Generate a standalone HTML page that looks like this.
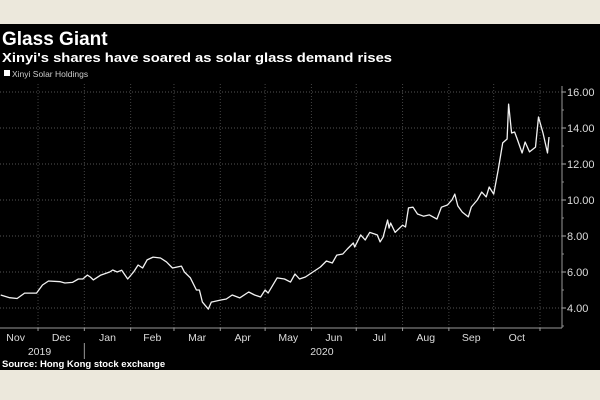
<!DOCTYPE html>
<html><head><meta charset="utf-8"><style>
html,body{margin:0;padding:0;background:#ece8dc;}
svg{display:block;font-family:"Liberation Sans",sans-serif;}
</style></head><body>
<svg id="chart" width="600" height="400" viewBox="0 0 600 400">
<rect x="0" y="0" width="600" height="24" fill="#ece8dc"/>
<rect x="0" y="24" width="600" height="346" fill="#000"/>
<rect x="0" y="370" width="600" height="30" fill="#ece8dc"/>
<text x="2" y="45" fill="#fff" font-size="19" font-weight="bold">Glass Giant</text>
<text x="2" y="62" fill="#fff" font-size="13" font-weight="bold" textLength="390" lengthAdjust="spacingAndGlyphs">Xinyi's shares have soared as solar glass demand rises</text>
<rect x="4" y="70" width="6" height="6" fill="#fff"/>
<text x="12" y="77" fill="#ccc" font-size="8.5">Xinyi Solar Holdings</text>
<g id="grid"></g>
<g id="axes"></g>
<path id="line" fill="none" stroke="#f2f2f2" stroke-width="1.3" stroke-linejoin="round"/>
<text x="2" y="367" fill="#fff" font-size="9.5" font-weight="bold">Source: Hong Kong stock exchange</text>
</svg>
<script>
const days=[5,11,16,21,29,33,37,45,48,53,57,60,63,65,67,72,78,80,83,86,90,94,97,100,103,107,112,116,120,126,128,132,136,138,140,144,146,152,156,160,165,171,175,179,182,184,190,195,199,202,205,209,212,219,223,227,230,234,237,241,242,246,249,252,257,259,261,264,265,266,269,274,276,278,281,284,288,292,297,300,304,307,309,311,314,318,320,324,327,330,332,335,338,341,344,345,347,349,351,354,356,359,363,365,368,371,372];
const prices=[4.72,4.57,4.53,4.83,4.83,5.28,5.5,5.46,5.39,5.42,5.61,5.61,5.83,5.72,5.56,5.83,6.0,6.11,6.0,6.1,5.61,6.0,6.39,6.22,6.67,6.83,6.78,6.56,6.22,6.33,6.0,5.67,5.0,5.0,4.33,3.94,4.33,4.44,4.5,4.72,4.56,4.89,4.72,4.61,5.0,4.83,5.67,5.61,5.44,5.89,5.61,5.72,5.89,6.28,6.61,6.5,6.94,7.0,7.28,7.61,7.39,8.06,7.78,8.2,8.06,7.67,7.94,8.89,8.44,8.72,8.2,8.6,8.5,9.56,9.6,9.22,9.1,9.17,8.94,9.6,9.72,10.0,10.33,9.67,9.33,9.06,9.61,10.0,10.44,10.17,10.72,10.33,11.67,13.17,13.39,15.33,13.72,13.78,13.33,12.61,13.22,12.67,12.94,14.61,13.72,12.61,13.5];
const yTicks=[4,6,8,10,12,14,16];
const yTickLabels=["4.00","6.00","8.00","10.00","12.00","14.00","16.00"];
const months=["Nov","Dec","Jan","Feb","Mar","Apr","May","Jun","Jul","Aug","Sep","Oct"];
const monthStartDays=[0,30,61,92,121,152,182,213,243,274,305,335,366];
const years=["2019","2020"];
const yearMid=[31,220];

const NS="http://www.w3.org/2000/svg";
const X0=-6.8,KX=1.494,PR=562,PB=328;
const xs=d=>X0+d*KX;
const ys=v=>308-(v-4)*18;
const grid=document.getElementById('grid'),axes=document.getElementById('axes');
function mk(tag,attrs,parent){const e=document.createElementNS(NS,tag);for(const k in attrs)e.setAttribute(k,attrs[k]);parent.appendChild(e);return e;}
yTicks.forEach((v,i)=>{
  const g=mk('line',{x1:0,x2:PR,y1:ys(v),y2:ys(v),stroke:'#555','stroke-dasharray':'1,2','stroke-width':1},grid);
  
  
  const t=mk('line',{x1:PR,x2:PR+4,y1:ys(v),y2:ys(v),stroke:'#aaa'},axes);
  
  
  const l=mk('text',{x:PR+5,y:ys(v)+4,fill:'#ddd','font-size':11},axes);
  l.textContent=yTickLabels[i];
  
  
});
for(let v=3;v<=15;v+=2){
  const t=mk('line',{x1:PR,x2:PR+2,y1:ys(v),y2:ys(v),stroke:'#888'},axes);
  
  
}
const ya=mk('line',{x1:PR,x2:PR,y1:86,y2:PB,stroke:'#999'},axes);


const xa=mk('line',{x1:0,x2:PR,y1:PB,y2:PB,stroke:'#999'},axes);


months.forEach((m,i)=>{
  const b=xs(monthStartDays[i+1]);
  const g=mk('line',{x1:b,x2:b,y1:84,y2:PB,stroke:'#444','stroke-dasharray':'1,2'},grid);
  
  
  const t=mk('line',{x1:b,x2:b,y1:PB,y2:PB+3,stroke:'#999'},axes);
  
  
  const c=(xs(monthStartDays[i])+b)/2;
  const l=mk('text',{x:c,y:341,fill:'#ddd','font-size':10.5,'text-anchor':'middle'},axes);
  l.textContent=m;
  
  
});
years.forEach((y,i)=>{
  const l=mk('text',{x:xs(yearMid[i]),y:355,fill:'#ddd','font-size':10.5,'text-anchor':'middle'},axes);
  l.textContent=y;
  
  
});
const sep=mk('line',{x1:xs(monthStartDays[2]),x2:xs(monthStartDays[2]),y1:343,y2:359,stroke:'#999'},axes);


let d='';
days.forEach((dd,i)=>{d+=(i?'L':'M')+xs(dd).toFixed(1)+','+ys(prices[i]).toFixed(1);});
document.getElementById('line').setAttribute('d',d);
</script>
</body></html>
